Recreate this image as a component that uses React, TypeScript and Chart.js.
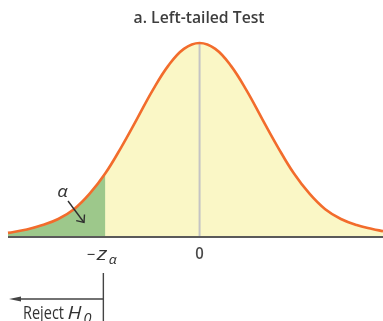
import React, { useEffect, useRef } from "react";
import { Chart, registerables } from "chart.js";

Chart.register(...registerables);

// Curve (z value -> density height)
const zValues = [-3.05, -2.75, -2.5, -2.25, -2.0, -1.75, -1.5, -1.25, -1.0, -0.75, -0.5, -0.25, 0, 0.25, 0.5, 0.75, 1.0, 1.25, 1.5, 1.75, 2.0, 2.25, 2.5, 2.75, 2.92];
const density = [0.0085, 0.0155, 0.0245, 0.037, 0.057, 0.089, 0.131, 0.184, 0.242, 0.301, 0.352, 0.387, 0.399, 0.387, 0.352, 0.301, 0.242, 0.184, 0.131, 0.089, 0.057, 0.037, 0.0245, 0.0165, 0.012];
const criticalZ = -1.5;
const peakDensity = 0.399;
const xRange = [-3.05, 2.92];

const titleText = "a. Left-tailed Test";
const zeroTick = "0";
const alphaLabel = "α";
const rejectLabel = "Reject";
const hLabel = "H";
const hSub = "0";

const ORANGE = "#f26c2c";
const YELLOW = "#faf7c6";
const GREEN = "#9dc88b";
const TEXT = "#333333";

function drawText(ctx: CanvasRenderingContext2D, text: string, x: number, y: number, font: string, opts: { width?: number; sx?: number; align?: "left" | "center" } = {}) {
  ctx.save();
  ctx.font = font;
  const w0 = ctx.measureText(text).width;
  const sx = opts.width ? opts.width / w0 : opts.sx ?? 1;
  const w = w0 * sx;
  const left = opts.align === "center" ? x - w / 2 : x;
  ctx.translate(left, y);
  ctx.scale(sx, 1);
  ctx.textAlign = "left";
  ctx.textBaseline = "alphabetic";
  ctx.fillText(text, 0, 0);
  ctx.restore();
  return w;
}

const annotate = {
  id: "annotate",
  afterDatasetsDraw(chart: any) {
    const ctx: CanvasRenderingContext2D = chart.ctx;
    const xs = chart.scales.x;
    const px = (v: number) => xs.getPixelForValue(v);
    const c0 = px(0);
    const cz = px(criticalZ);
    ctx.save();
    ctx.fillStyle = "#3d3d3d";
    // title
    drawText(ctx, titleText, c0 - 0.5, 22.5, "600 17px 'Open Sans'", { width: 131, align: "center" });
    // 0 tick
    ctx.fillStyle = "#4a4a4a";
    drawText(ctx, zeroTick, c0, 258.5, "600 16px 'Open Sans'", { width: 8.5, align: "center" });
    // -z_alpha
    ctx.fillStyle = TEXT;
    drawText(ctx, "−", cz - 18.5, 260, "400 16px 'Open Sans'", { width: 8.5 });
    drawText(ctx, "z", cz - 8.5, 259.5, "italic 400 18px 'Open Sans'", { width: 10.5 });
    drawText(ctx, "α", cz + 3.5, 263.5, "italic 400 13px 'Open Sans'", { width: 8 });
    // alpha label
    drawText(ctx, alphaLabel, 62.5, 197, "italic 400 16px 'Open Sans'", { width: 10.5, align: "center" });
    // alpha arrow
    ctx.strokeStyle = "#2f2f2f";
    ctx.lineWidth = 1.4;
    ctx.beginPath();
    ctx.moveTo(68, 201);
    ctx.lineTo(84, 222.5);
    ctx.stroke();
    const ang = Math.atan2(21.5, 16);
    const al = 8;
    ctx.beginPath();
    ctx.moveTo(84 - al * Math.cos(ang - 0.7), 222.5 - al * Math.sin(ang - 0.7));
    ctx.lineTo(84, 222.5);
    ctx.lineTo(84 - al * Math.cos(ang + 0.7), 222.5 - al * Math.sin(ang + 0.7));
    ctx.stroke();
    // reject region marker
    const vx = cz - 2;
    ctx.strokeStyle = "#444444";
    ctx.lineWidth = 1.4;
    ctx.beginPath();
    ctx.moveTo(vx, 273);
    ctx.lineTo(vx, 321);
    ctx.moveTo(vx, 299);
    ctx.lineTo(16, 299);
    ctx.stroke();
    ctx.fillStyle = "#444444";
    ctx.beginPath();
    ctx.moveTo(9, 299);
    ctx.lineTo(21, 296.6);
    ctx.lineTo(21, 301.4);
    ctx.closePath();
    ctx.fill();
    ctx.fillStyle = TEXT;
    drawText(ctx, rejectLabel, 23, 319, "400 19px 'Open Sans'", { width: 41 });
    drawText(ctx, hLabel, 67.5, 319, "italic 400 19px 'Open Sans'", { width: 14 });
    drawText(ctx, hSub, 83.5, 323, "italic 400 14px 'Open Sans'", { width: 8 });
    ctx.restore();
  },
};

export default function App() {
  const ref = useRef<HTMLCanvasElement>(null);
  useEffect(() => {
    if (!ref.current) return;
    const curve = zValues.map((z, i) => ({ x: z, y: density[i] }));
    const tail = curve.filter((p) => p.x <= criticalZ);
    const chart = new Chart(ref.current, {
      type: "line",
      data: {
        datasets: [
          {
            data: curve,
            borderColor: ORANGE,
            borderWidth: 2.6,
            pointRadius: 0,
            fill: false,
            tension: 0.4,
            clip: false as any,
            order: 0,
          },
          {
            data: [{ x: xRange[0], y: 0 }, { x: xRange[1], y: 0 }],
            borderColor: "#5a5a5a",
            borderWidth: 2,
            pointRadius: 0,
            fill: false,
            clip: false as any,
            order: 1,
          },
          {
            data: [{ x: 0, y: 0 }, { x: 0, y: peakDensity }],
            borderColor: "#c4c4c4",
            borderWidth: 2,
            pointRadius: 0,
            fill: false,
            clip: false as any,
            order: 2,
          },
          {
            data: tail,
            borderWidth: 0,
            borderColor: "rgba(0,0,0,0)",
            backgroundColor: GREEN,
            pointRadius: 0,
            fill: "origin",
            tension: 0.4,
            order: 3,
          },
          {
            data: curve,
            borderWidth: 0,
            borderColor: "rgba(0,0,0,0)",
            backgroundColor: YELLOW,
            pointRadius: 0,
            fill: "origin",
            tension: 0.4,
            order: 4,
          },
        ],
      },
      options: {
        animation: false,
        responsive: false,
        events: [],
        layout: { padding: { left: 8, right: 0, top: 43, bottom: 84 } },
        plugins: { legend: { display: false }, tooltip: { enabled: false }, title: { display: false } },
        scales: {
          x: { type: "linear", min: xRange[0], max: xRange[1], display: false },
          y: { type: "linear", min: 0, max: peakDensity, display: false },
        },
      },
      plugins: [annotate],
    });
    return () => chart.destroy();
  }, []);
  return (
    <div style={{ position: "absolute", left: 0, top: 0, width: 383, height: 321, background: "#ffffff" }}>
      <canvas ref={ref} width={383} height={321} style={{ display: "block" }} />
    </div>
  );
}
